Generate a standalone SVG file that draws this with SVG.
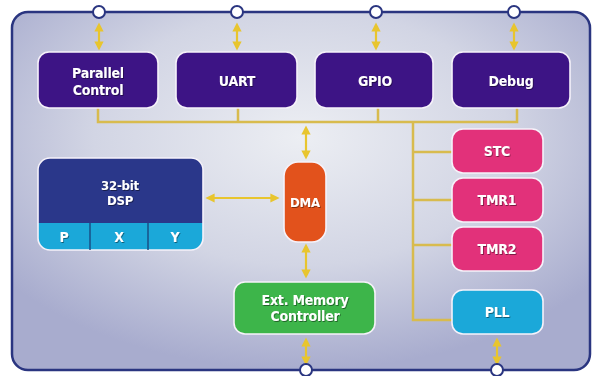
<svg xmlns="http://www.w3.org/2000/svg" width="592" height="376" viewBox="0 0 592 376">
<defs>
<radialGradient id="bg" cx="0.5" cy="0.35" r="0.65">
<stop offset="0" stop-color="#eceef3"/>
<stop offset="0.55" stop-color="#d2d5e4"/>
<stop offset="1" stop-color="#a8acce"/>
</radialGradient>
<marker id="ah" viewBox="0 0 10 10" refX="5" refY="5" markerWidth="4.2" markerHeight="4.2" orient="auto-start-reverse" markerUnits="strokeWidth">
<path d="M0,0 L10,5 L0,10 Z" fill="#e8c52e"/>
</marker>
<filter id="sh" x="-10%" y="-10%" width="120%" height="130%">
<feDropShadow dx="0.8" dy="1" stdDeviation="0.6" flood-color="#000" flood-opacity="0.45"/>
</filter>
</defs>
<style>
.box{stroke:#f6f2fa;stroke-width:1.6}
.pur{fill:#3d1485}
.pink{fill:#e2317a}
.cyan{fill:#1ba8d9}
.t{font-family:"DejaVu Sans Condensed","DejaVu Sans",sans-serif;font-weight:bold;font-size:14px;letter-spacing:-0.2px;fill:#fff;text-anchor:middle;filter:url(#sh)}
.s{font-size:13px}
.bus{fill:none;stroke:#d8bb4e;stroke-width:2.5}
.arr{stroke:#e8c52e;stroke-width:2.2;marker-start:url(#ah);marker-end:url(#ah)}
.pin{fill:#fff;stroke:#2a3580;stroke-width:2}
</style>
<rect x="12" y="12" width="578" height="358" rx="16" fill="url(#bg)" stroke="#2a3580" stroke-width="2.5"/>

<g id="connectors">
<path class="bus" d="M98,108 V122 H517 V108 M238,108 V122 M378,108 V122"/>
<path class="bus" d="M413,122 V320 H452 M413,152 H452 M413,200 H452 M413,245 H452"/>
<line class="arr" x1="99" y1="27" x2="99" y2="46"/>
<line class="arr" x1="237" y1="27" x2="237" y2="46"/>
<line class="arr" x1="376" y1="27" x2="376" y2="46"/>
<line class="arr" x1="514" y1="27" x2="514" y2="46"/>
<line class="arr" x1="306" y1="130" x2="306" y2="155"/>
<line class="arr" x1="210" y1="198" x2="275" y2="198"/>
<line class="arr" x1="306" y1="248" x2="306" y2="274"/>
<line class="arr" x1="306" y1="342" x2="306" y2="361"/>
<line class="arr" x1="497" y1="342" x2="497" y2="361"/>
</g>

<g id="pins">
<circle class="pin" cx="99" cy="12" r="6"/>
<circle class="pin" cx="237" cy="12" r="6"/>
<circle class="pin" cx="376" cy="12" r="6"/>
<circle class="pin" cx="514" cy="12" r="6"/>
<circle class="pin" cx="306" cy="370" r="6"/>
<circle class="pin" cx="497" cy="370" r="6"/>
</g>

<g id="parallel"><rect class="box pur" x="38" y="52" width="120" height="56" rx="11"/><text class="t" x="98" y="78">Parallel</text><text class="t" x="98" y="95">Control</text></g>
<g id="uart"><rect class="box pur" x="176" y="52" width="121" height="56" rx="11"/><text class="t" x="237" y="86">UART</text></g>
<g id="gpio"><rect class="box pur" x="315" y="52" width="118" height="56" rx="11"/><text class="t" x="375" y="86">GPIO</text></g>
<g id="debug"><rect class="box pur" x="452" y="52" width="118" height="56" rx="11"/><text class="t" x="511" y="86">Debug</text></g>

<g id="dsp">
<rect x="38" y="158" width="165" height="92" rx="12" fill="#1ba8d9"/>
<path d="M50,158 H191 A12,12 0 0 1 203,170 V223 H38 V170 A12,12 0 0 1 50,158 Z" fill="#2a378a"/>
<rect x="38" y="158" width="165" height="92" rx="12" fill="none" stroke="#f6f2fa" stroke-width="1.6"/>
<line x1="90" y1="223" x2="90" y2="250" stroke="#1a4f86" stroke-width="1.5"/>
<line x1="148" y1="223" x2="148" y2="250" stroke="#1a4f86" stroke-width="1.5"/>
<text class="t s" x="120" y="190">32-bit</text><text class="t s" x="120" y="205">DSP</text>
<text class="t" x="64" y="242">P</text><text class="t" x="119" y="242">X</text><text class="t" x="175" y="242">Y</text>
</g>

<g id="dma"><rect class="box" x="284" y="162" width="42" height="80" rx="14" fill="#e2521c"/><text class="t s" x="305" y="207">DMA</text></g>
<g id="extmem"><rect class="box" x="234" y="282" width="141" height="52" rx="11" fill="#3db54a"/><text class="t" x="305" y="305">Ext. Memory</text><text class="t" x="305" y="321">Controller</text></g>
<g id="stc"><rect class="box pink" x="452" y="129" width="91" height="44" rx="11"/><text class="t" x="497" y="156">STC</text></g>
<g id="tmr1"><rect class="box pink" x="452" y="178" width="91" height="44" rx="11"/><text class="t" x="497" y="205">TMR1</text></g>
<g id="tmr2"><rect class="box pink" x="452" y="227" width="91" height="44" rx="11"/><text class="t" x="497" y="254">TMR2</text></g>
<g id="pll"><rect class="box cyan" x="452" y="290" width="91" height="44" rx="11"/><text class="t" x="497" y="317">PLL</text></g>
</svg>
